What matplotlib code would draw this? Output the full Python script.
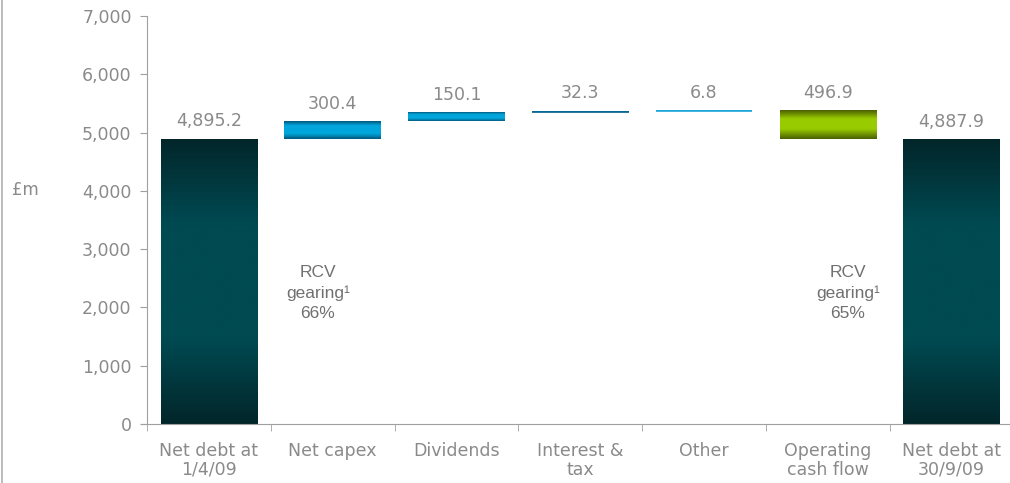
import numpy as np
import matplotlib
matplotlib.use('Agg')
import matplotlib.pyplot as plt
from matplotlib.colors import LinearSegmentedColormap
from matplotlib.ticker import FuncFormatter

# net debt bridge, £m
categories = ['Net debt at\n1/4/09', 'Net capex', 'Dividends', 'Interest &\ntax',
              'Other', 'Operating\ncash flow', 'Net debt at\n30/9/09']
opening = 4895.2
increases = [300.4, 150.1, 32.3, 6.8]
decrease = 496.9
closing = 4887.9
value_labels = ['4,895.2', '300.4', '150.1', '32.3', '6.8', '496.9', '4,887.9']

GREY = '#8a8a8a'

teal = LinearSegmentedColormap.from_list('teal',
	[(0, '#02262a'), (0.3, '#004a52'), (0.7, '#004a52'), (1, '#02262a')])
blue = LinearSegmentedColormap.from_list('blue',
	[(0, '#00557a'), (0.25, '#00a6dc'), (0.7, '#00a6dc'), (1, '#00557a')])
green = LinearSegmentedColormap.from_list('green',
	[(0, '#4a5e00'), (0.3, '#99cc00'), (0.65, '#99cc00'), (1, '#4a5e00')])

def gradient_bar(ax, x, bottom, height, cmap, width=0.78):
	bars = ax.bar(x, height, width, bottom=bottom, color='none', edgecolor='none')
	patch = bars[0]
	x0, y0 = patch.get_x(), patch.get_y()
	grad = np.linspace(0, 1, 256).reshape(-1, 1)
	im = ax.imshow(grad, cmap=cmap, aspect='auto', interpolation='bicubic',
		extent=(x0, x0 + patch.get_width(), y0, y0 + patch.get_height()), zorder=2)
	im.set_clip_path(patch)
	return patch

fig = plt.figure(figsize=(10.1, 4.83), dpi=100)
ax = fig.add_axes([0.1455, 0.122, 0.858, 0.845])

# running totals for the floating bars
level = opening
patches = [gradient_bar(ax, 0, 0, opening, teal)]
for i, inc in enumerate(increases):
	if inc < 50:
		# too thin for a gradient: flat blue with a darker underside
		edge = '#00608a' if inc > 20 else '#1fa8dc'
		bars = ax.bar(i + 1, inc, 0.78, bottom=level, color='#10a4dc', edgecolor='none')
		ax.plot([i + 1 - 0.39, i + 1 + 0.39], [level, level], color=edge, lw=1.2,
			solid_capstyle='butt')
		patches.append(bars[0])
	else:
		patches.append(gradient_bar(ax, i + 1, level, inc, blue))
	level += inc
patches.append(gradient_bar(ax, 5, level - decrease, decrease, green))
patches.append(gradient_bar(ax, 6, 0, closing, teal))

for p, lab in zip(patches, value_labels):
	ax.annotate(lab, (p.get_x() + p.get_width() / 2, p.get_y() + p.get_height()),
		xytext=(0, 6), textcoords='offset points', ha='center', va='bottom',
		fontsize=12.5, color=GREY)

ax.set_xlim(-0.5, 6.5)
ax.set_ylim(0, 7000)
ax.set_yticks(range(0, 7001, 1000))
ax.yaxis.set_major_formatter(FuncFormatter(lambda v, _: f'{int(v):,}'))
ax.tick_params(axis='y', direction='out', length=5, color='#a0a0a0', labelcolor=GREY,
	labelsize=12.5, pad=6)

ax.set_xticks(range(7))
ax.set_xticklabels(categories, fontsize=12.5, color=GREY, linespacing=1.05)
ax.tick_params(axis='x', length=0, pad=13)
ax.set_xticks(np.arange(-0.5, 6.6, 1), minor=True)
ax.tick_params(axis='x', which='minor', direction='out', length=5, color='#a0a0a0')

for side in ['top', 'right']:
	ax.spines[side].set_visible(False)
for side in ['left', 'bottom']:
	ax.spines[side].set_color('#a0a0a0')
ax.spines['bottom'].set_bounds(-0.55, 6.5)

fig.text(25 / 1010, 1 - 190 / 483, '£m', ha='center', va='center', fontsize=12, color=GREY)

rcv_font = dict(family='Liberation Sans', fontsize=12.5, color='#707070', ha='center',
	va='center', linespacing=1.45)
ax.text(0.88, 2250, 'RCV\ngearing\u00b9\n66%', **rcv_font)
ax.text(5.16, 2250, 'RCV\ngearing\u00b9\n65%', **rcv_font)

# frame line on the left edge
fig.add_artist(plt.Line2D([2 / 1010, 2 / 1010], [0, 1], color='#b0b0b0', lw=1.2))

fig.savefig('out.png', dpi=100)
